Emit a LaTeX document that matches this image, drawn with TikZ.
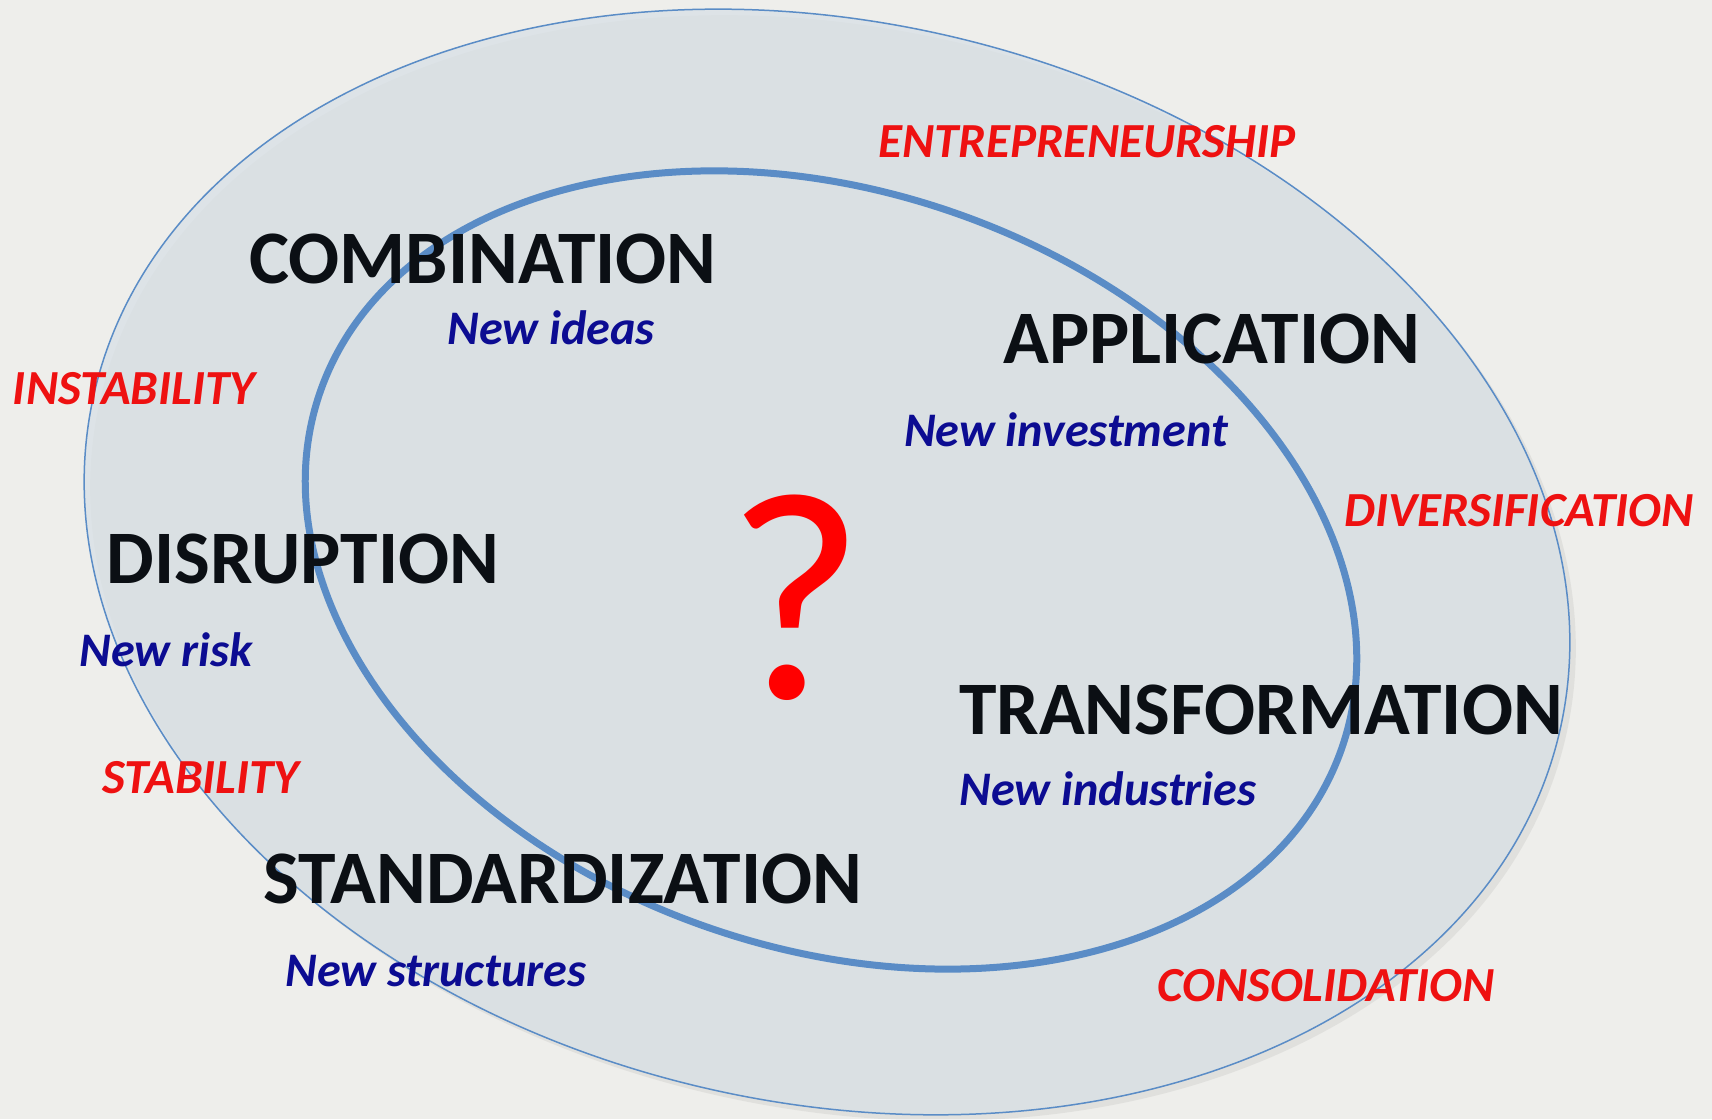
\documentclass[tikz,border=0pt]{standalone}
\usepackage{fontspec}
\setmainfont{Carlito}
\usepackage{xcolor}
\usetikzlibrary{shadows}

\definecolor{paper}{HTML}{EEEEEB}
\definecolor{ringblue}{HTML}{5A8CC6}
\definecolor{ringfill}{HTML}{D8E0E6}
\definecolor{phasetext}{HTML}{0B0F14}
\definecolor{newblue}{HTML}{0C0C92}
\definecolor{forcered}{HTML}{EE1111}

\begin{document}
\begin{tikzpicture}[
    x=0.5pt, y=0.5pt,
    phase/.style={anchor=base, font=\fontsize{37.8}{44}\selectfont\bfseries, text=phasetext, inner sep=0pt},
    outcome/.style={anchor=base, font=\fontsize{24.1}{28}\selectfont\bfseries\itshape, text=newblue, inner sep=0pt},
    force/.style={anchor=base, font=\fontsize{24.5}{28}\selectfont\bfseries\itshape, text=forcered, inner sep=0pt}
]
    \fill[paper] (0,0) rectangle (1712,1119);
    \useasboundingbox (0,0) rectangle (1712,1119);

    \fill[ringfill, fill opacity=0.75, drop shadow={opacity=0.12, shadow xshift=3pt, shadow yshift=-3pt}]
        [rotate around={-13:(827,557)}] (827,557) ellipse [x radius=752, y radius=540];
    \draw[ringblue, line width=0.75pt] [rotate around={-13:(827,557)}] (827,557) ellipse [x radius=752, y radius=540];
    \draw[ringblue, line width=3.5pt] [rotate around={-19.3:(831,549)}] (831,549) ellipse [x radius=541, y radius=378];

    \node[phase] (comb) at (483,835) {COMBINATION};
    \node[phase] (appl) at (1212,755) {APPLICATION};
    \node[phase] (disr) at (303,535) {DISRUPTION};
    \node[phase] (trans) at (1261,384) {TRANSFORMATION};
    \node[phase] (stand) at (563,215) {STANDARDIZATION};

    \node[outcome] (ideas) at (551,774) {New ideas};
    \node[outcome] (invest) at (1066,672) {New investment};
    \node[outcome] (risk) at (166,452) {New risk};
    \node[outcome] (industries) at (1108,313) {New industries};
    \node[outcome] (structures) at (436,133) {New structures};

    \node[force] (entre) at (1087,961) {ENTREPRENEURSHIP};
    \node[force] (instab) at (134,714) {INSTABILITY};
    \node[force] (divers) at (1519,592) {DIVERSIFICATION};
    \node[force] (stab) at (201,325) {STABILITY};
    \node[force] (consol) at (1326,118) {CONSOLIDATION};

    \node[anchor=base, inner sep=0pt, text=red, font=\fontsize{149}{154}\selectfont] (qmark) at (796,420) {?};
\end{tikzpicture}
\end{document}
